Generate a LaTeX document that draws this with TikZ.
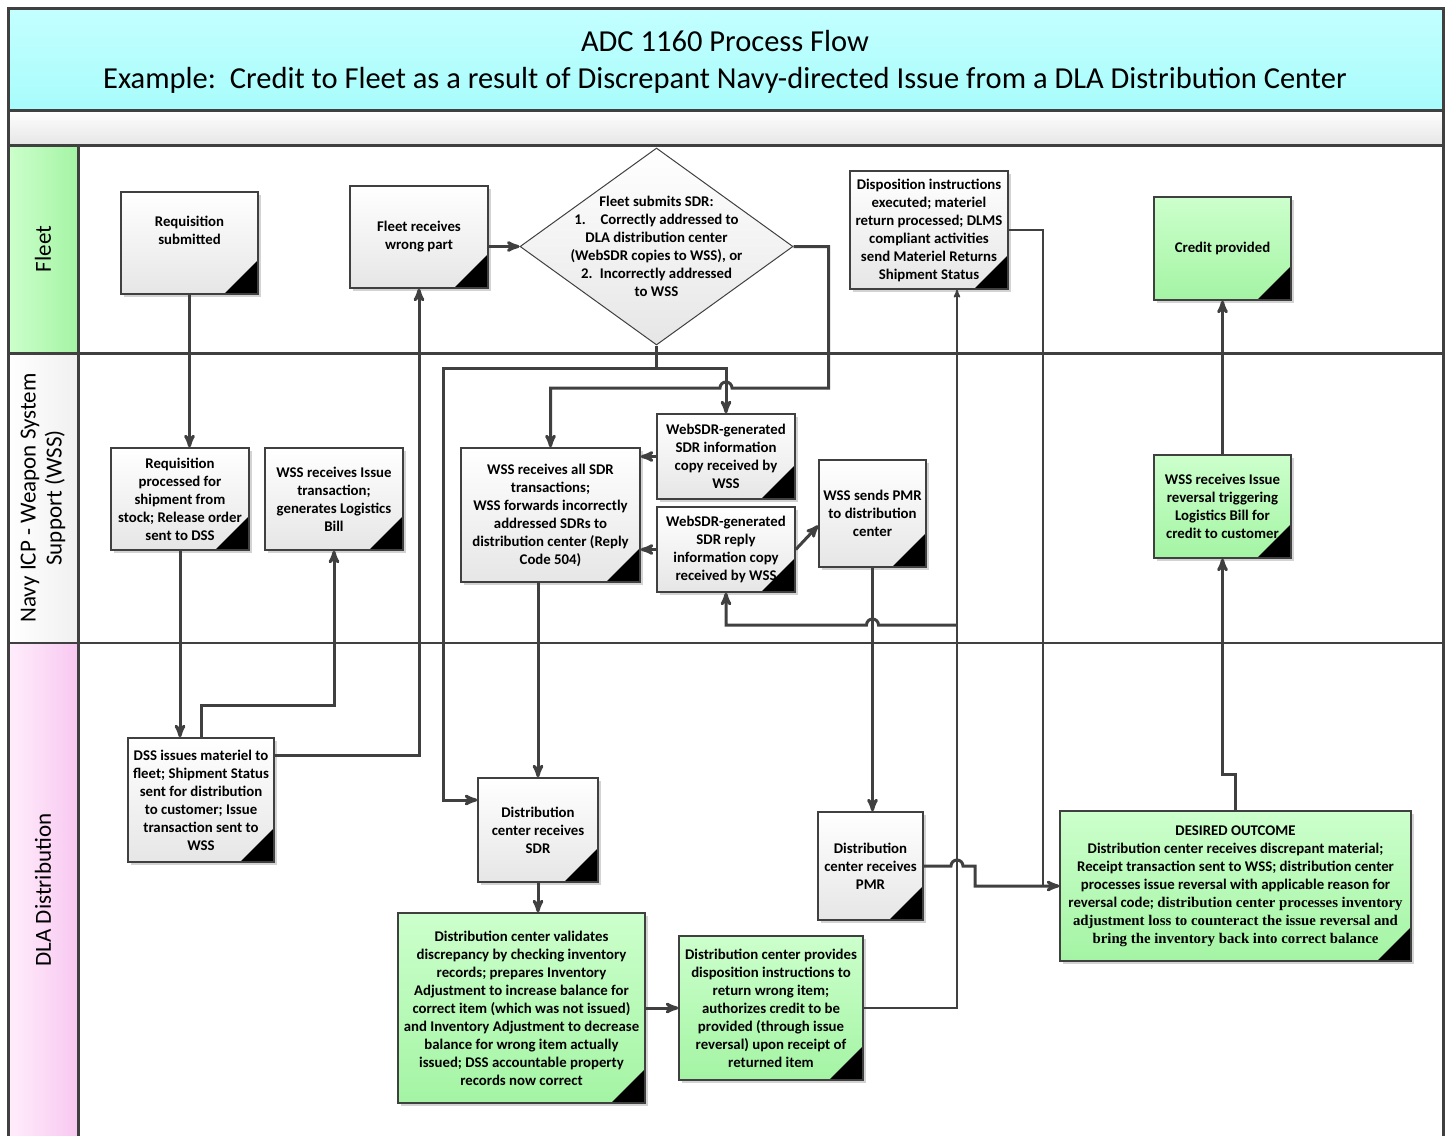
\documentclass[tikz,border=0pt]{standalone}
\usepackage{fontspec}
\setmainfont{Carlito}
\newfontfamily\timesbold{Liberation Serif}
\usetikzlibrary{arrows,shapes.geometric,shadows}

\definecolor{linegray}{HTML}{404040}
\definecolor{boxgray}{HTML}{E6E6E6}
\definecolor{greentop}{HTML}{CCFFCC}
\definecolor{greenbot}{HTML}{A4F4A4}
\definecolor{cyantop}{HTML}{C4FFFF}
\definecolor{cyanbot}{HTML}{A8FCFC}
\definecolor{pinkleft}{HTML}{FFEEFC}
\definecolor{pinkright}{HTML}{F8C8F0}

\newcommand\flowfont{\fontsize{14.8}{18}\selectfont\bfseries}

\tikzset{
  corner/.style={path picture={\fill[black] (path picture bounding box.south east)
      -- ++(-34pt,0pt) -- ++(34pt,34pt) -- cycle;}},
  boxsize/.style 2 args={minimum width=#1pt,minimum height=#2pt},
  box/.style={rectangle,draw=linegray,line width=1.5pt,align=center,font=\flowfont,
    inner sep=1pt,top color=white,bottom color=boxgray,corner,
    drop shadow={shadow xshift=3pt,shadow yshift=-3pt,opacity=0.35,fill=gray}},
  gbox/.style={box,top color=greentop,bottom color=greenbot},
}

\begin{document}
\begin{tikzpicture}[x=1pt,y=-1pt,>=stealth',
    flow/.style={->,draw=linegray,line width=3pt},
    thinflow/.style={->,draw=linegray,line width=1.6pt},
    lane/.style={font=\fontsize{23}{26}\selectfont,rotate=90,align=center}]
  \useasboundingbox (0,0) rectangle (1450,1135);

  % title and lanes
  \shade[top color=cyantop,bottom color=cyanbot] (8,8) rectangle (1443,110);
  \shade[top color=white,bottom color=boxgray] (8,110) rectangle (1443,145);
  \shade[left color=greentop,right color=greenbot] (8,145) rectangle (78,353);
  \shade[left color=white,right color=boxgray!60] (8,353) rectangle (78,643);
  \shade[left color=pinkleft,right color=pinkright] (8,643) rectangle (78,1140);
  \draw[linegray,line width=1.5pt] (8,643) -- (1443,643);
  \draw[linegray,line width=3pt] (8,110) -- (1443,110) (8,145) -- (1443,145)
    (8,353) -- (1443,353) (78,145) -- (78,1140);
  \draw[linegray,line width=3pt] (8,1140) -- (8,8) -- (1443,8) -- (1443,1140);
  \node[font=\fontsize{30.5}{37}\selectfont,align=center] (title) at (725,62)
    {ADC 1160 Process Flow\\Example:\ \ Credit to Fleet as a result of Discrepant Navy-directed Issue from a DLA Distribution Center};
  \node[lane] (fleet) at (43,249) {Fleet};
  \node[lane] (wss) at (43,498) {Navy ICP - Weapon System\\Support (WSS)};
  \node[lane] (dla) at (43,890) {DLA Distribution};

  % Fleet
  \node[box,boxsize={137}{102}] (req) at (189.5,243) {Requisition\\submitted\\[8pt]};
  \node[box,boxsize={138}{102}] (wrong) at (419,237) {Fleet receives\\wrong part};
  \node[diamond,draw=linegray,line width=1pt,top color=white,bottom color=boxgray,
    aspect=1.39,inner sep=-30pt,boxsize={273}{197},align=center,font=\flowfont]
    (sdr) at (656.5,246.5) {Fleet submits SDR:\\1.\quad Correctly addressed to\\DLA distribution center\\(WebSDR copies to WSS), or\\2.\enspace Incorrectly addressed\\to WSS};
  \node[box,boxsize={158}{118}] (disp) at (929,230) {Disposition instructions\\executed; materiel\\return processed; DLMS\\compliant activities\\send Materiel Returns\\Shipment Status};
  \node[gbox,boxsize={137}{103}] (credit) at (1222.5,248.5) {Credit provided};

  % WSS
  \node[box,boxsize={138}{102}] (proc) at (180,499) {Requisition\\processed for\\shipment from\\stock; Release order\\sent to DSS};
  \node[box,boxsize={138}{102}] (bill) at (334,499) {WSS receives Issue\\transaction;\\generates Logistics\\Bill};
  \node[box,boxsize={179}{134}] (wssall) at (550.5,515) {WSS receives all SDR\\transactions;\\WSS forwards incorrectly\\addressed SDRs to\\distribution center (Reply\\Code 504)};
  \node[box,boxsize={138}{85}] (info) at (726,456.5) {WebSDR-generated\\SDR information\\copy received by\\WSS};
  \node[box,boxsize={138}{85}] (reply) at (726,549.5) {WebSDR-generated\\SDR reply\\information copy\\received by WSS};
  \node[box,boxsize={107}{107}] (pmr) at (872.5,513.5) {WSS sends PMR\\to distribution\\center};
  \node[gbox,boxsize={137}{103}] (rev) at (1222.5,506.5) {WSS receives Issue\\reversal triggering\\Logistics Bill for\\credit to customer};

  % DLA
  \node[box,boxsize={146}{124}] (dss) at (201,800) {DSS issues materiel to\\fleet; Shipment Status\\sent for distribution\\to customer; Issue\\transaction sent to\\WSS};
  \node[box,boxsize={120}{104}] (dcsdr) at (538,830) {Distribution\\center receives\\SDR};
  \node[gbox,boxsize={247}{190}] (valid) at (521.5,1008) {Distribution center validates\\discrepancy by checking inventory\\records; prepares Inventory\\Adjustment to increase balance for\\correct item (which was not issued)\\and Inventory Adjustment to decrease\\balance for wrong item actually\\issued; DSS accountable property\\records now correct};
  \node[gbox,boxsize={184}{144}] (prov) at (771,1008) {Distribution center provides\\disposition instructions to\\return wrong item;\\authorizes credit to be\\provided (through issue\\reversal) upon receipt of\\returned item};
  \node[box,boxsize={105}{108}] (dcpmr) at (870.5,866) {Distribution\\center receives\\PMR};
  \node[gbox,boxsize={351}{150}] (outcome) at (1235.5,886) {DESIRED OUTCOME\\Distribution center receives discrepant material;\\Receipt transaction sent to WSS; distribution center\\processes issue reversal with applicable reason for\\reversal code; {\timesbold distribution center processes inventory}\\{\timesbold adjustment loss to counteract the issue reversal and}\\{\timesbold bring the inventory back into correct balance}};

  % connectors
  \coordinate (split) at ([yshift=-23pt]sdr.south);
  \coordinate (tap) at (957,625);
  \draw[flow] (req.south) -- (req.south |- proc.north);
  \draw[flow] (proc.south) -- (proc.south |- dss.north);
  \draw[flow] (dss.north) -- ++(0,-32) -| (bill.south);
  \draw[flow] ([yshift=45pt]dss.east) -| (wrong.south);
  \draw[flow] (wrong.east |- sdr.west) -- (sdr.west);
  \draw[flow] (sdr.south) -- (split) -| (info.north);
  \draw[flow] (split) -| (443,800) -- ([yshift=30pt]dcsdr.west);
  \draw[flow] (sdr.east) -- ++(35,0) |- (732,388)
    arc[start angle=0,end angle=180,radius=6pt] -| (wssall.north);
  \draw[flow] (info.west) -- (info.west -| wssall.east);
  \draw[flow] (reply.west) -- (reply.west -| wssall.east);
  \draw[flow] (reply.east) -- ([yshift=-12pt]pmr.west);
  \draw[flow] (pmr.south) -- (pmr.south |- dcpmr.north);
  \draw[thinflow] (prov.east) -| ([xshift=28pt]disp.south);
  \draw[flow] (tap) -- (878.5,625) arc[start angle=0,end angle=180,radius=6pt] -| (reply.south);
  \draw[thinflow] (disp.east) -- ++(34,0) |- (outcome.west);
  \draw[flow] (dcpmr.east) -- (951,866) arc[start angle=180,end angle=0,radius=6pt]
    -- (975,866) |- (outcome.west);
  \draw[flow] (dcsdr.north |- wssall.south) -- (dcsdr.north);
  \draw[flow] (dcsdr.south) -- (dcsdr.south |- valid.north);
  \draw[flow] (valid.east) -- (prov.west);
  \draw[flow] (outcome.north) -- ++(0,-36) -| (rev.south);
  \draw[flow] (rev.north) -- (credit.south);
\end{tikzpicture}
\end{document}
